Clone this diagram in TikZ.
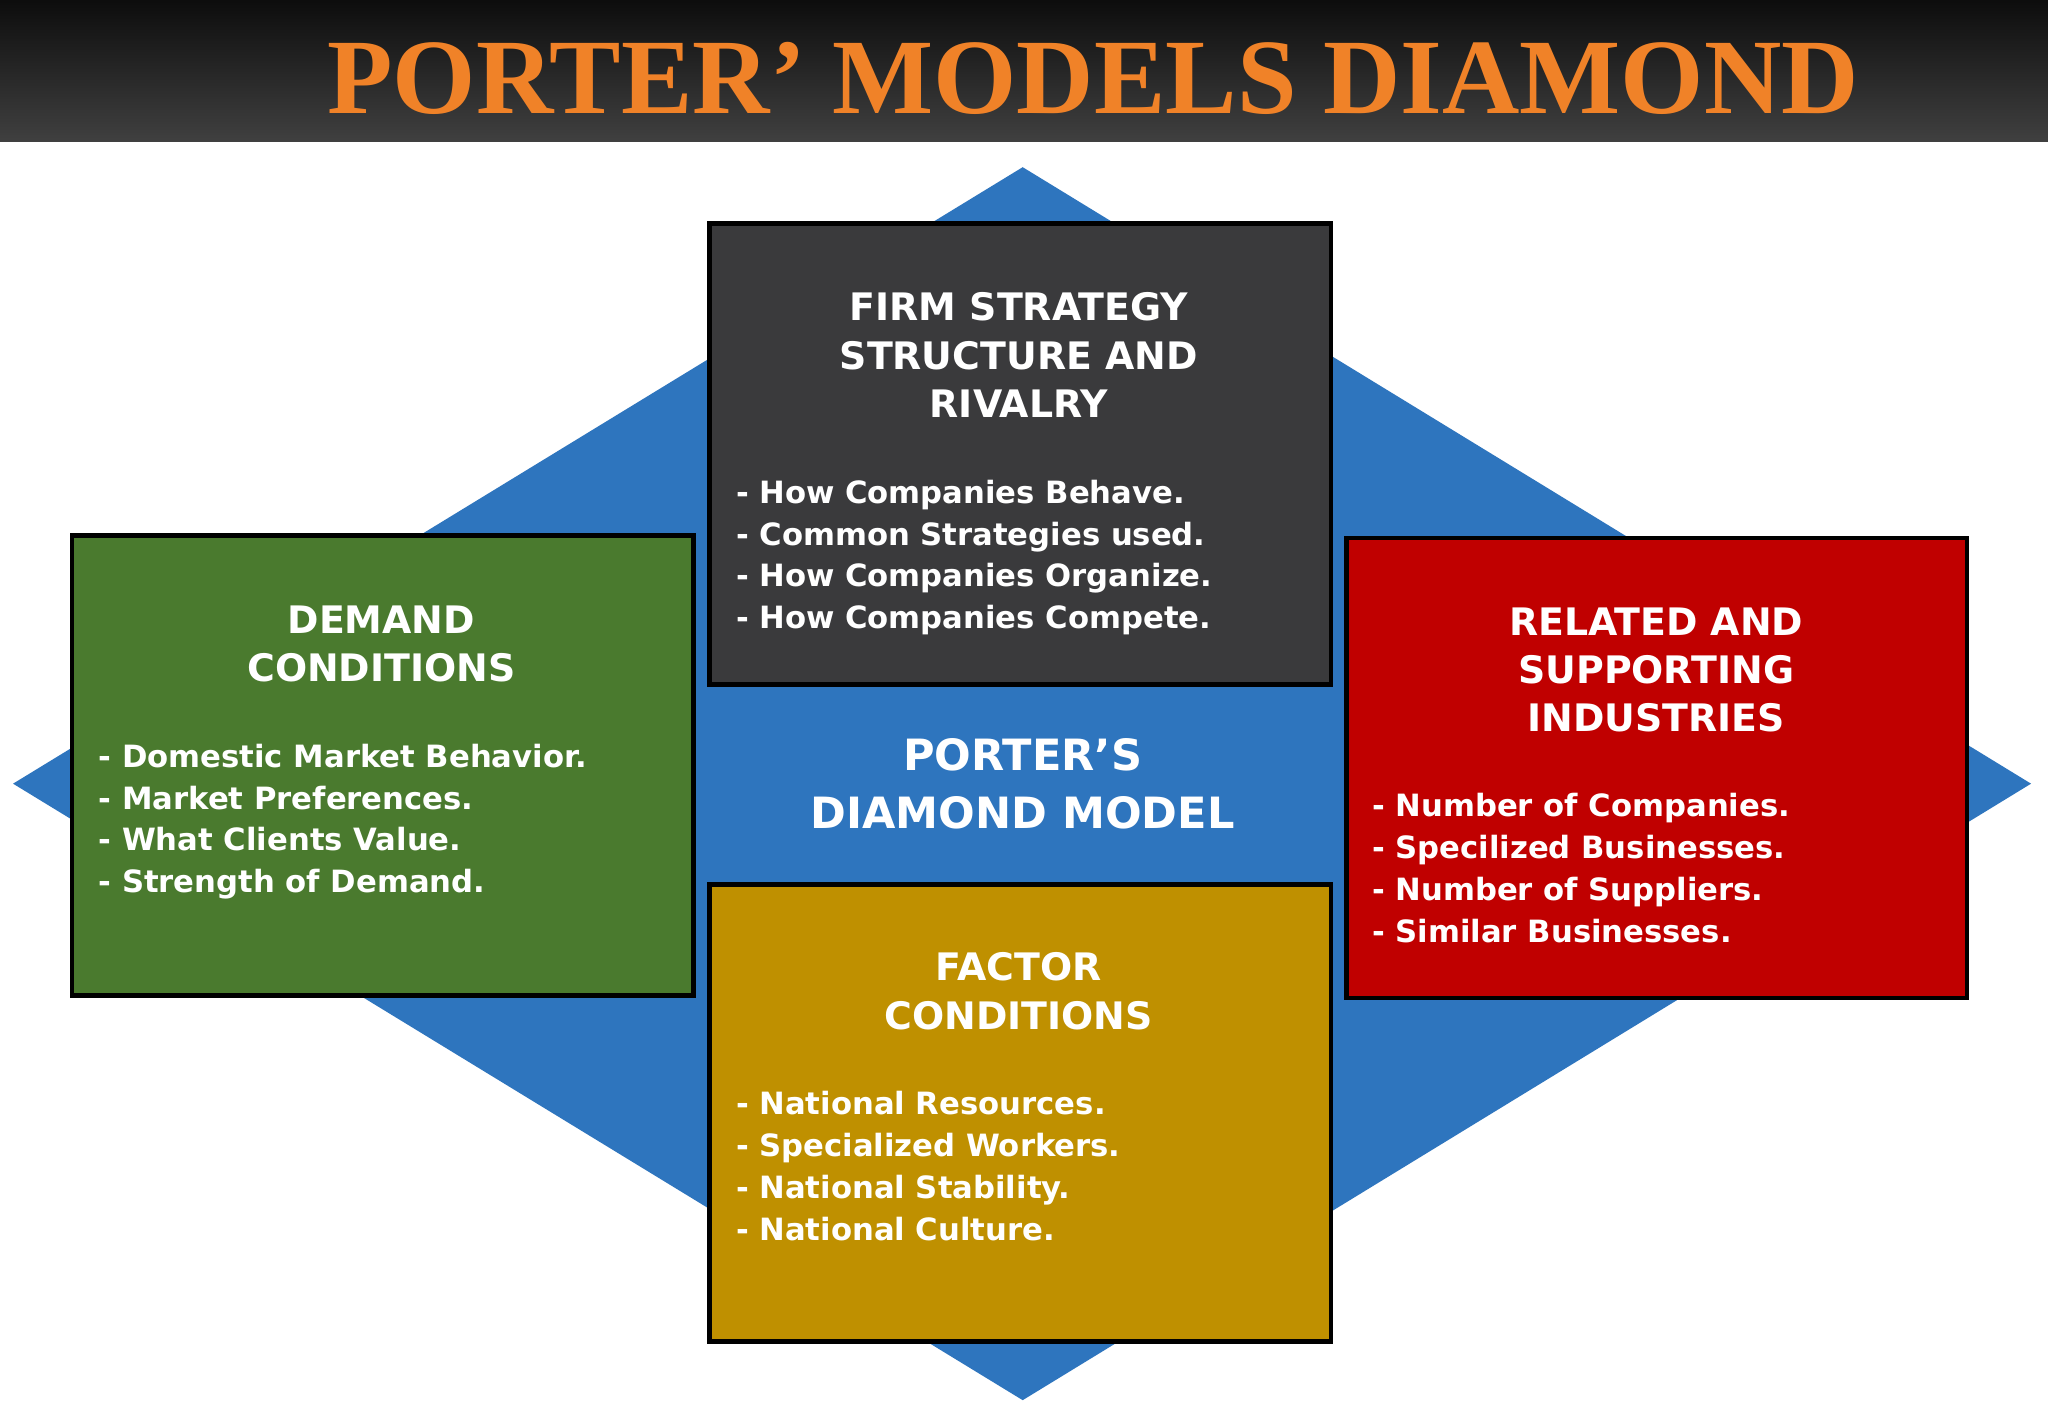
\documentclass[tikz,border=0pt]{standalone}
\usepackage{fontspec}
\setmainfont{DejaVu Sans}
\newfontfamily\titlefont{Liberation Serif}
\definecolor{ttl}{RGB}{240,130,40}
\definecolor{dia}{RGB}{46,117,190}
\definecolor{gry}{RGB}{58,58,60}
\definecolor{grn}{RGB}{74,122,46}
\definecolor{rd}{RGB}{192,0,0}
\definecolor{gld}{RGB}{191,144,0}
\begin{document}
\begin{tikzpicture}[x=1pt,y=-1pt,
  bx/.style={draw=black,line width=3.5pt},
  head/.style={text=white,font=\bfseries\fontsize{29}{37}\selectfont,align=center},
  items/.style={text=white,font=\bfseries\fontsize{23.5}{32}\selectfont,align=left,anchor=north west}]
\useasboundingbox (0,0) rectangle (1568,1086);
\fill[white] (0,0) rectangle (1568,1086);
\shade[top color=black!95,bottom color=black!75] (0,0) rectangle (1568,108);
\node[text=ttl,font=\titlefont\bfseries\fontsize{82}{90}\selectfont] (title) at (837,60) {PORTER’ MODELS DIAMOND};
\fill[dia] (783,128) coordinate (dt) -- (1555,600) coordinate (dr) -- (783,1072) coordinate (db) -- (10,600) coordinate (dl) -- cycle;
\node[text=white,font=\bfseries\fontsize{33}{44}\selectfont,align=center] (center) at (783,600) {PORTER'S\\DIAMOND MODEL};
\fill[gry,bx] (543,171) rectangle (1019,524);
\fill[grn,bx] (55,410) rectangle (531,762);
\fill[rd,bx] (1031,412) rectangle (1506,764);
\fill[gld,bx] (543,677) rectangle (1019,1027);
\node[head] (h1) at (780,272) {FIRM STRATEGY\\STRUCTURE AND\\RIVALRY};
\node[items] (i1) at (560,364) {- How Companies Behave.\\- Common Strategies used.\\- How Companies Organize.\\- How Companies Compete.};
\node[head] (h2) at (292,493) {DEMAND\\CONDITIONS};
\node[items] (i2) at (72,566) {- Domestic Market Behavior.\\- Market Preferences.\\- What Clients Value.\\- Strength of Demand.};
\node[head] (h3) at (1268,513) {RELATED AND\\SUPPORTING\\INDUSTRIES};
\node[items] (i3) at (1047,604) {- Number of Companies.\\- Specilized Businesses.\\- Number of Suppliers.\\- Similar Businesses.};
\node[head] (h4) at (780,759) {FACTOR\\CONDITIONS};
\node[items] (i4) at (560,832) {- National Resources.\\- Specialized Workers.\\- National Stability.\\- National Culture.};
\end{tikzpicture}
\end{document}
